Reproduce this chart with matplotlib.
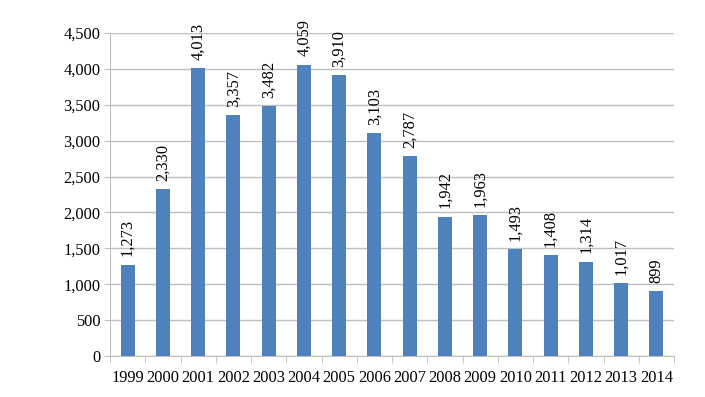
import matplotlib
matplotlib.use("Agg")
import matplotlib.pyplot as plt
import numpy as np

# DATA
years = ["1999", "2000", "2001", "2002", "2003", "2004", "2005", "2006",
         "2007", "2008", "2009", "2010", "2011", "2012", "2013", "2014"]
counts = [1273, 2330, 4013, 3357, 3482, 4059, 3910, 3103,
          2787, 1942, 1963, 1493, 1408, 1314, 1017, 899]
y_ticks = [0, 500, 1000, 1500, 2000, 2500, 3000, 3500, 4000, 4500]

plt.rcParams['font.family'] = ['Liberation Serif', 'DejaVu Serif']

fig = plt.figure(figsize=(7.05, 3.97), dpi=100)
ax = fig.add_axes([110 / 705, 1 - 356 / 397, 564 / 705, 323 / 397])

x = np.arange(len(years))
bars = ax.bar(x, counts, width=0.4, color="#4F81BD", zorder=3)

for xi, v in zip(x, counts):
    ax.text(xi, v + 115, f"{v:,}", rotation=90, ha="center", va="bottom",
            fontsize=11.8, color="#000000", zorder=4)

ax.set_xlim(-0.5, len(years) - 0.5)
ax.set_ylim(0, 4500)
ax.set_yticks(y_ticks)
ax.set_yticklabels([f"{t:,}" for t in y_ticks], fontsize=11.8)
ax.yaxis.grid(True, color="#BFBFBF", linewidth=1, zorder=0)

ax.set_xticks(x)
ax.set_xticklabels(years, fontsize=11.8)
ax.set_xticks(np.arange(-0.5, len(years)), minor=True)
ax.tick_params(axis="x", which="major", length=0, pad=10)
ax.tick_params(axis="x", which="minor", length=5, color="#BFBFBF")
ax.tick_params(axis="y", length=4, color="#BFBFBF", pad=3)

for side in ["top", "right"]:
    ax.spines[side].set_visible(False)
for side in ["left", "bottom"]:
    ax.spines[side].set_color("#BFBFBF")

fig.savefig("out.png", dpi=100)
